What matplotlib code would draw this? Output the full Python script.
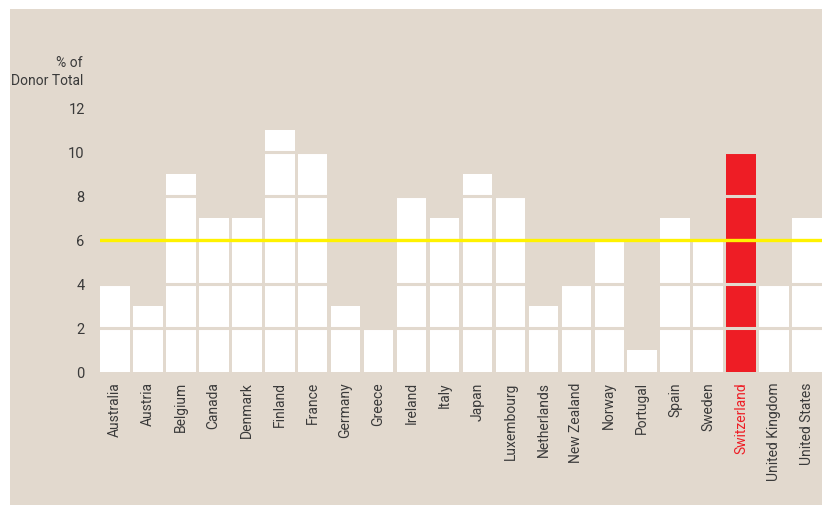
import numpy as np
import matplotlib.pyplot as plt
from matplotlib.patches import Rectangle

plt.rcParams['font.family'] = ['Roboto', 'DejaVu Sans']

countries = ['Australia', 'Austria', 'Belgium', 'Canada', 'Denmark', 'Finland', 'France',
             'Germany', 'Greece', 'Ireland', 'Italy', 'Japan', 'Luxembourg', 'Netherlands',
             'New Zealand', 'Norway', 'Portugal', 'Spain', 'Sweden', 'Switzerland',
             'United Kingdom', 'United States']
share = [4, 3, 9, 7, 7, 11, 10, 3, 2, 8, 7, 9, 8, 3, 4, 6, 1, 7, 6, 10, 4, 7]
average = 6
yticks = [0, 2, 4, 6, 8, 10, 12]

beige = '#e2d9ce'
red = '#ee1d25'
yellow = '#fff200'
textc = '#3a3a3a'

fig = plt.figure(figsize=(8.22, 5.06), dpi=100, facecolor='white')
fig.patches.append(Rectangle((10/822, 0), 1, 496/506, transform=fig.transFigure,
                             facecolor=beige, edgecolor='none', zorder=-10))

ax = fig.add_axes([100/822, (506-372.5)/506, 722/822, 270.6/506])
ax.set_facecolor('none')
ax.set_zorder(1)

x = np.arange(len(countries))
colors = [red if c == 'Switzerland' else 'white' for c in countries]
ax.bar(x, share, width=0.9, color=colors, zorder=1)

# background-coloured grid lines cut through the bars
for t in yticks[1:]:
    if t != average:
        ax.axhline(t, color=beige, lw=2.2, zorder=2)
ax.axhline(average, color=yellow, lw=2.4, zorder=3)

ax.set_xlim(-0.45, 21.45)
ax.set_ylim(0, 12.3)
ax.set_yticks(yticks)
ax.set_yticklabels([str(t) for t in yticks], fontsize=10.5, color=textc)
ax.set_xticks(x)
ax.set_xticklabels(countries, rotation=90, fontsize=10, color=textc)
ax.get_xticklabels()[countries.index('Switzerland')].set_color(red)
ax.tick_params(length=0)
ax.tick_params(axis='y', pad=11)
ax.tick_params(axis='x', pad=7)
for s in ax.spines.values():
    s.set_visible(False)

fig.text(83/822, 1 - 88/506, '% of\nDonor Total', ha='right', va='bottom',
         fontsize=10, color=textc, linespacing=1.35)

fig.savefig('out.png', dpi=100, facecolor='white')
